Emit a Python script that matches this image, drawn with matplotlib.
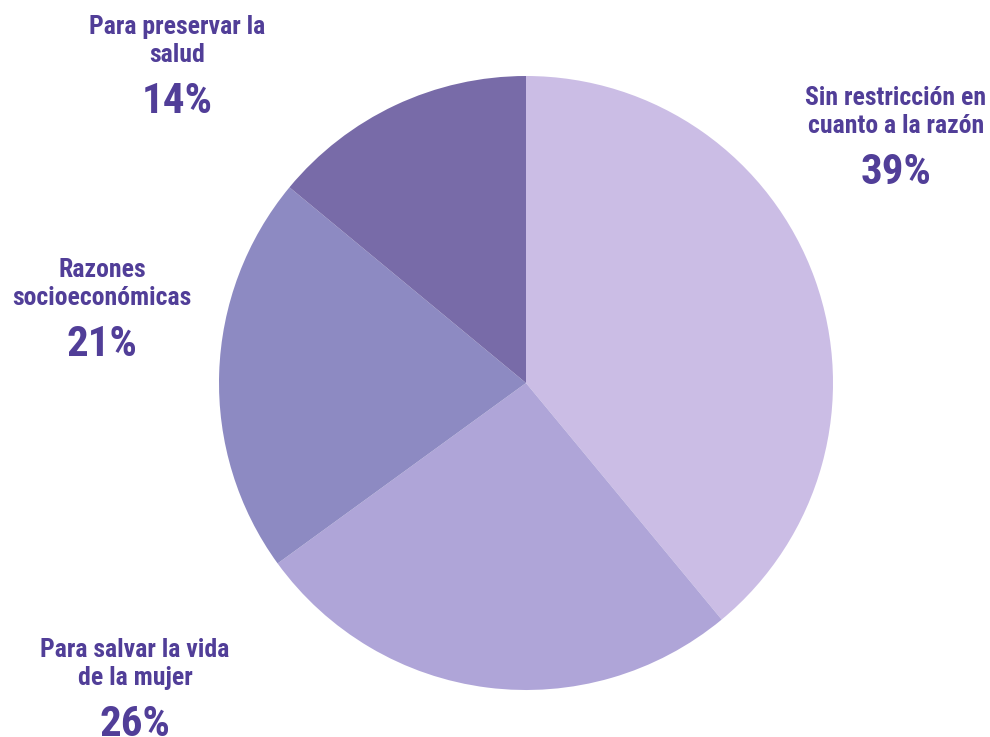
import matplotlib.pyplot as plt

# datos
etiquetas = ['Sin restricción en\ncuanto a la razón', 'Para salvar la vida\nde la mujer',
             'Razones\nsocioeconómicas', 'Para preservar la\nsalud']
valores = [39, 26, 21, 14]
colores = ['#CBBDE5', '#AFA5D8', '#8D8AC2', '#786BA8']
# posiciones de las etiquetas (pixeles, origen arriba a la izquierda)
pos_x = [896, 135, 102, 177]
pos_y = [112, 664, 284, 41]

texto_color = '#513E98'
fuente = ['Liberation Sans Narrow', 'Roboto Condensed', 'Archivo Narrow', 'DejaVu Sans']

fig = plt.figure(figsize=(9.9, 7.37), dpi=100)
ax = fig.add_axes([0, 0, 1, 1])

ax.pie(valores, colors=colores, startangle=90, counterclock=False,
       center=(526, 737 - 383), radius=307, frame=True,
       wedgeprops={'linewidth': 0})
ax.set_xlim(0, 990)
ax.set_ylim(0, 737)
ax.set_aspect('auto')
ax.axis('off')

for lab, v, x, y in zip(etiquetas, valores, pos_x, pos_y):
    ax.text(x, 737 - y, lab, ha='center', va='center', fontsize=18.5,
            fontweight='bold', color=texto_color, family=fuente, linespacing=1.2)
    ax.text(x, 737 - y - 60, f'{v}%', ha='center', va='center', fontsize=31,
            fontweight='bold', color=texto_color, family=fuente)

fig.savefig('out.png', dpi=100)
